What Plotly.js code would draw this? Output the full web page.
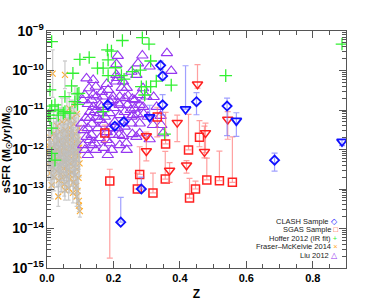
<!DOCTYPE html>
<html><head><meta charset="utf-8">
<script src="https://cdn.plot.ly/plotly-3.0.1.min.js"></script>
<style>html,body{margin:0;padding:0;background:#fff;}#chart{width:374px;height:307px;}</style>
</head><body><div id="chart"></div>
<script>
// ---- Data (z, log10 sSFR, errors in dex) ----
const clashZ      = [0.183, 0.204, 0.231, 0.342, 0.348, 0.348, 0.284, 0.222, 0.450, 0.542, 0.685];
const clashLog    = [-10.87, -11.41, -11.30, -9.87, -10.14, -10.87, -13.00, -13.84, -10.79, -10.90, -12.27];
const clashErrUp  = [0.05, 0.08, 0.05, 0.11, 0.10, 0.26, 0.30, 0.63, 0.23, 0.20, 0.18];
const clashErrDn  = [0.05, 0.08, 0.05, 0.11, 0.10, 0.26, 0.00, 0.00, 0.33, 0.75, 0.28];

const clashLimZ     = [0.309, 0.417, 0.570, 0.888];
const clashLimLog   = [-11.18, -10.98, -11.27, -11.80];
const clashLimErrUp = [0.30, 1.10, 0.20, 0.05];
const clashLimErrDn = [0.00, 0.00, 0.40, 0.10];

const sgasZ     = [0.174, 0.189, 0.272, 0.279, 0.319, 0.332, 0.357, 0.356, 0.426, 0.459, 0.481, 0.519, 0.558, 0.447, 0.429];
const sgasLog   = [-11.58, -12.80, -13.00, -12.63, -13.10, -11.18, -11.86, -12.75, -12.01, -11.69, -12.77, -12.79, -12.83, -13.00, -13.23];
const sgasErrUp = [0.20, 0.30, 0.40, 0.70, 0.50, 0.25, 0.80, 0.70, 0.90, 0.42, 0.55, 0.75, 1.15, 0.20, 0.50];
const sgasErrDn = [0.22, 1.95, 0.00, 0.00, 0.00, 0.50, 0.00, 0.00, 0.00, 0.24, 0.00, 0.00, 0.00, 0.00, 0.00];

const sgasLimZ     = [0.299, 0.299, 0.392, 0.453, 0.477, 0.474, 0.420, 0.369, 0.544];
const sgasLimLog   = [-11.66, -12.04, -11.32, -10.35, -11.58, -12.06, -12.40, -12.53, -11.24];
const sgasLimErrUp = [0.10, 0.35, 0.19, 0.50, 0.25, 0.65, 0.12, 0.20, 0.20];
const sgasLimErrDn = [0.05, 0.25, 0.48, 0.10, 0.50, 0.15, 0.20, 0.30, 0.50];

const hofferZ   = [0.014, 0.099, 0.127, 0.182, 0.184, 0.227, 0.287, 0.307, 0.194, 0.152,
                   0.169, 0.206, 0.184, 0.224, 0.232, 0.281, 0.312, 0.329, 0.374, 0.284,
                   0.299, 0.312, 0.294, 0.257, 0.538, 0.078, 0.074, 0.009, 0.091, 0.054,
                   0.092, 0.024, 0.009, 0.054, 0.084, 0.096, 0.014, 0.034, 0.049, 0.004,
                   0.009, 0.069, 0.034, 0.014, 0.014, 0.024, 0.169, 0.354, 0.888];
const hofferLog = [-9.27, -9.72, -9.67, -9.48, -9.73, -9.24, -9.17, -9.33, -9.51, -9.94,
                   -9.94, -9.93, -10.13, -10.13, -10.22, -9.99, -9.76, -10.27, -10.37, -10.41,
                   -10.41, -10.41, -10.62, -10.03, -10.13, -10.07, -10.39, -10.49, -10.59, -10.66,
                   -10.86, -10.87, -11.03, -11.04, -10.79, -10.58, -10.90, -11.00, -11.08, -11.13,
                   -11.21, -11.08, -11.13, -11.46, -12.10, -12.27, -11.04, -11.61, -9.33];

const fraserZ   = [0.017,0.054,0.084,0.067,0.090,0.075,0.060,0.045,0.030,0.080,
                   0.095,0.070,0.055,0.040,0.020,0.085,0.065,0.010,0.050,0.075,
                   0.092,0.035,0.060,0.025,0.080,0.045,0.005,0.070,0.097,0.015,
                   0.055,0.030,0.088,0.040,0.065,0.008,0.078,0.050,0.020,0.095,
                   0.035,0.060,0.072,0.012,0.085,0.045,0.025,0.055,0.098,0.068,
                   0.004,0.038,0.080,0.018,0.050,0.090,0.062,0.030,0.075,0.010,
                   0.042,0.085,0.058,0.022,0.095,0.068,0.035,0.080,0.014,0.052,
                   0.088,0.065,0.054,0.092,0.078,0.034,0.089,0.096,0.096,0.099,
                   0.028,0.048,0.072,0.083,0.058,0.015,0.040,0.094,0.066,0.032,
                   0.077,0.052,0.009,0.045,0.087,0.063,0.023];
const fraserLog = [-10.08,-10.11,-10.85,-10.96,-11.10,-11.20,-11.25,-11.30,-11.40,-11.35,
                   -11.45,-11.45,-11.50,-11.55,-11.60,-11.60,-11.62,-11.70,-11.70,-11.72,
                   -11.75,-11.78,-11.80,-11.85,-11.85,-11.88,-11.90,-11.92,-11.95,-11.95,
                   -11.98,-12.00,-12.02,-12.05,-12.05,-12.08,-12.10,-12.12,-12.15,-12.15,
                   -12.18,-12.20,-12.22,-12.25,-12.25,-12.28,-12.30,-12.32,-12.35,-12.35,
                   -12.38,-12.40,-12.42,-12.45,-12.48,-12.50,-12.52,-12.55,-12.58,-12.60,
                   -12.62,-12.65,-12.68,-12.70,-12.72,-12.75,-12.78,-12.82,-12.90,-12.88,
                   -12.92,-12.98,-13.03,-13.05,-13.10,-13.19,-13.19,-13.30,-13.42,-13.56,
                   -11.65,-11.95,-11.58,-12.30,-12.45,-12.30,-12.20,-11.85,-12.62,-12.10,
                   -11.95,-11.85,-12.00,-12.72,-12.12,-11.70,-12.05];
const fraserErr = [0.60,0.35,0.45,0.40,0.50,0.45,0.55,0.60,0.50,0.40,
                   0.35,0.50,0.45,0.60,0.55,0.40,0.50,0.45,0.55,0.40,
                   0.35,0.50,0.45,0.55,0.40,0.50,0.45,0.40,0.35,0.50,
                   0.45,0.55,0.40,0.50,0.45,0.40,0.50,0.45,0.55,0.35,
                   0.45,0.50,0.40,0.45,0.40,0.50,0.45,0.40,0.35,0.45,
                   0.40,0.50,0.40,0.45,0.40,0.35,0.45,0.40,0.35,0.40,
                   0.45,0.35,0.40,0.35,0.30,0.35,0.40,0.30,0.35,0.30,
                   0.30,0.30,0.25,0.30,0.25,0.25,0.25,0.20,0.15,0.15,
                   0.50,0.45,0.50,0.40,0.40,0.45,0.50,0.45,0.35,0.50,
                   0.45,0.50,0.45,0.35,0.40,0.50,0.45];

const liuZ   = [0.213,0.287,0.361,0.309,0.274,0.254,0.269,0.374,0.209,0.209,
                0.211,0.207,0.229,0.119,0.139,0.147,0.127,0.114,0.139,0.149,
                0.169,0.184,0.199,0.197,0.219,0.244,0.257,0.279,0.299,0.289,
                0.159,0.189,0.214,0.219,0.242,0.279,0.264,0.289,0.234,0.264,
                0.164,0.139,0.123,0.108,0.272,0.279,0.254,0.319,0.344,0.349,
                0.309,0.239,0.234,0.254,0.259,0.304,0.219,0.189,0.174,0.149,
                0.159,0.129,0.104,0.119,0.134,0.129,0.144,0.109,0.134,0.179,
                0.189,0.199,0.217,0.229,0.257,0.269,0.279,0.114,0.117,0.135,
                0.153,0.171,0.189,0.204,0.159,0.147,0.171,0.123,0.195,0.219,
                0.213,0.111,0.165,0.240,0.180,0.252,0.291,0.330,0.321,0.342,
                0.234,0.135,0.159,0.123,0.180,0.147,0.201,0.225,0.129,0.240,
                0.183];
const liuLog = [-9.63,-9.62,-9.56,-9.90,-9.82,-10.03,-10.11,-10.01,-9.84,-10.11,
                -10.19,-10.28,-10.28,-10.20,-10.24,-10.41,-10.45,-10.62,-10.62,-10.66,
                -10.66,-10.49,-10.66,-10.75,-10.66,-10.64,-10.72,-10.62,-10.66,-10.45,
                -10.87,-10.79,-10.83,-10.87,-10.87,-10.87,-10.96,-10.92,-10.70,-10.75,
                -10.92,-10.92,-10.85,-10.75,-11.11,-11.34,-11.17,-11.38,-11.38,-11.59,
                -11.74,-11.84,-11.42,-11.34,-11.13,-11.17,-11.13,-11.08,-11.17,-11.17,
                -11.08,-11.05,-11.34,-11.68,-11.63,-11.76,-11.84,-11.89,-11.89,-11.76,
                -11.84,-11.63,-11.63,-11.66,-11.61,-11.68,-11.59,-12.01,-11.20,-11.35,
                -11.46,-11.35,-11.46,-11.30,-11.71,-12.01,-11.96,-12.14,-12.01,-11.89,
                -11.46,-11.51,-10.54,-10.44,-10.34,-11.00,-11.10,-10.92,-10.67,-11.15,
                -11.05,-10.75,-11.25,-11.46,-11.56,-11.00,-10.95,-10.44,-11.20,-12.01,
                -12.14];

const legendLabels  = ["CLASH Sample", "SGAS Sample", "Hoffer 2012 (IR fit)", "Fraser\u2013McKelvie 2014", "Liu 2012"];
const legendSymbols = ["\u25C7", "\u25A1", "+", "\u00D7", "\u25B3"];

// ---- helpers ----
const lin = a => a.map(v => Math.pow(10, v));
const errPlus  = (l, e) => l.map((v, i) => Math.pow(10, v + e[i]) - Math.pow(10, v));
const errMinus = (l, e) => l.map((v, i) => Math.pow(10, v) - Math.pow(10, v - e[i]));

const BLUE = '#1010ff', RED = '#ff2020', GREEN = 'rgb(50,240,50)', ORANGE = 'rgb(255,170,40)', PURPLE = 'rgb(150,55,240)';

const traces = [
  { x: fraserZ, y: lin(fraserLog), mode: 'markers', type: 'scatter',
    marker: {symbol: 'x-thin-open', size: 6, color: ORANGE, line: {color: ORANGE, width: 1.1}} },
  { x: fraserZ, y: lin(fraserLog), mode: 'markers', type: 'scatter',
    error_y: {type: 'data', array: errPlus(fraserLog, fraserErr), arrayminus: errMinus(fraserLog, fraserErr),
              color: 'rgba(190,190,190,0.75)', thickness: 1.3, width: 2},
    marker: {size: 1, opacity: 0} },
  { x: liuZ, y: lin(liuLog), mode: 'markers', type: 'scatter',
    marker: {symbol: 'triangle-up-open', size: 10, color: PURPLE, line: {color: PURPLE, width: 1.1}} },
  { x: hofferZ, y: lin(hofferLog), mode: 'markers', type: 'scatter',
    marker: {symbol: 'cross-thin-open', size: 9, color: GREEN, line: {color: GREEN, width: 1.3}} },
  { x: sgasZ, y: lin(sgasLog), mode: 'markers', type: 'scatter',
    error_y: {type: 'data', array: errPlus(sgasLog, sgasErrUp), arrayminus: errMinus(sgasLog, sgasErrDn),
              color: 'rgba(255,120,120,0.7)', thickness: 1.2, width: 3},
    marker: {symbol: 'square-open', size: 8, color: RED, line: {color: RED, width: 1.5}} },
  { x: sgasLimZ, y: lin(sgasLimLog), mode: 'markers', type: 'scatter',
    error_y: {type: 'data', array: errPlus(sgasLimLog, sgasLimErrUp), arrayminus: errMinus(sgasLimLog, sgasLimErrDn),
              color: 'rgba(255,120,120,0.7)', thickness: 1.2, width: 3},
    marker: {symbol: 'triangle-down-open', size: 9, color: RED, line: {color: RED, width: 1.5}} },
  { x: clashZ, y: lin(clashLog), mode: 'markers', type: 'scatter',
    error_y: {type: 'data', array: errPlus(clashLog, clashErrUp), arrayminus: errMinus(clashLog, clashErrDn),
              color: 'rgba(120,120,255,0.7)', thickness: 1.2, width: 3},
    marker: {symbol: 'diamond-open', size: 7, color: BLUE, line: {color: BLUE, width: 1.8}} },
  { x: clashLimZ, y: lin(clashLimLog), mode: 'markers', type: 'scatter',
    error_y: {type: 'data', array: errPlus(clashLimLog, clashLimErrUp), arrayminus: errMinus(clashLimLog, clashLimErrDn),
              color: 'rgba(120,120,255,0.7)', thickness: 1.2, width: 3},
    marker: {symbol: 'triangle-down-open', size: 9, color: BLUE, line: {color: BLUE, width: 1.8}} }
];

const legendColors = [BLUE, '#ff3a10', GREEN, ORANGE, PURPLE];
const legendY = [0.198, 0.162, 0.126, 0.090, 0.054];
const annotations = legendLabels.map((t, i) => ({
  xref: 'paper', yref: 'paper', x: 0.975, y: legendY[i], xanchor: 'right', yanchor: 'middle',
  showarrow: false, align: 'right', borderpad: 0,
  text: t + ' <span style="color:' + legendColors[i] + '">' + legendSymbols[i] + '</span>',
  font: {family: 'Liberation Sans, Arial, sans-serif', size: 7.5, color: '#222'}
}));

const axisFont = {family: 'Liberation Sans, Arial, sans-serif', size: 11, color: '#000', weight: 'bold'};

const layout = {
  width: 374, height: 307,
  margin: {l: 47, r: 28, t: 31, b: 39, pad: 0},
  paper_bgcolor: '#fff', plot_bgcolor: '#fff',
  showlegend: false,
  xaxis: {
    range: [0, 0.9], tick0: 0, dtick: 0.2, tickformat: '.1f',
    ticks: 'inside', ticklen: 7, tickwidth: 1, tickcolor: '#555',
    minor: {dtick: 0.05, ticks: 'inside', ticklen: 4, tickcolor: '#555', showgrid: false},
    showline: true, linecolor: '#555', linewidth: 1, mirror: 'allticks',
    showgrid: false, zeroline: false, tickfont: axisFont,
    title: {text: 'Z', font: {family: 'Liberation Sans, Arial, sans-serif', size: 12, weight: 'bold', color: '#000'}, standoff: 6}
  },
  yaxis: {
    type: 'log', range: [-15, -9], dtick: 1, exponentformat: 'power',
    ticks: 'inside', ticklen: 7, tickwidth: 1, tickcolor: '#555',
    minor: {dtick: 'D1', ticks: 'inside', ticklen: 4, tickcolor: '#555', showgrid: false},
    showline: true, linecolor: '#555', linewidth: 1, mirror: 'allticks',
    showgrid: false, zeroline: false, tickfont: axisFont,
    title: {text: 'sSFR (M<sub>\u2609</sub>/yr)/M<sub>\u2609</sub>', font: {family: 'Liberation Sans, Arial, sans-serif', size: 11, weight: 'bold', color: '#000'}, standoff: 4}
  },
  annotations: annotations
};

Plotly.newPlot('chart', traces, layout, {staticPlot: true, displayModeBar: false});
</script>
</body></html>
